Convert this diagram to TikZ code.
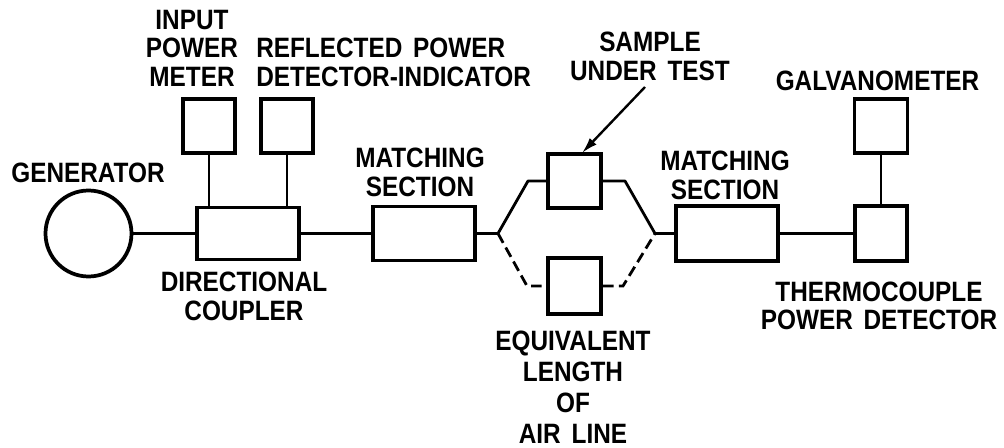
\documentclass[tikz,border=0pt]{standalone}
\usepackage{fontspec}
\setmainfont{Liberation Sans}[FakeStretch=0.87,WordSpace=1.6]
\usetikzlibrary{arrows.meta,calc}
\tikzset{
  box/.style={draw, line width=2.8pt, rectangle, inner sep=0pt},
  gencirc/.style={draw, line width=2.8pt, circle, inner sep=0pt, minimum size=64.5pt},
  wire/.style={line width=2.1pt},
  dwire/.style={line width=2.1pt, dash pattern=on 8pt off 4pt},
  lbl/.style={inner sep=0pt, align=center, font=\fontsize{21pt}{21.4pt}\selectfont\bfseries},
  lbll/.style={lbl, align=left},
  lblwide/.style={lbl, font=\fontsize{21pt}{23.2pt}\selectfont\bfseries},
}
\begin{document}
\begin{tikzpicture}[x=0.75pt,y=-0.75pt]
\useasboundingbox (0,0) rectangle (1004,448);
% nodes
\node[gencirc] (gen) at (88.5,233.5) {};
\node[box, minimum width=76.5pt, minimum height=39pt] (dc) at (248,233.5) {};
\node[box, minimum width=38.5pt, minimum height=40.5pt] (ipm) at (209,126) {};
\node[box, minimum width=39pt, minimum height=40.5pt] (rpd) at (287,126) {};
\node[box, minimum width=76.5pt, minimum height=40.5pt] (ms1) at (424,233.5) {};
\node[box, minimum width=39.75pt, minimum height=41pt] (sample) at (574.5,181) {};
\node[box, minimum width=39.75pt, minimum height=42pt] (eq) at (574.5,286) {};
\node[box, minimum width=76pt, minimum height=41pt] (ms2) at (727,233.5) {};
\node[box, minimum width=39pt, minimum height=41pt] (tc) at (881,233.5) {};
\node[box, minimum width=39.75pt, minimum height=40pt] (galv) at (881,126) {};
\coordinate (jl) at (498,233.5);
\coordinate (jr) at (655,233.5);
\coordinate (ul) at (528,181);
\coordinate (ur) at (625,181);
\coordinate (ll) at (527,286);
\coordinate (lr) at (623,286);
\coordinate (arrtail) at (645,87);
\coordinate (arrtip) at (582,153);
% connectors
\draw[wire] (gen) -- (dc);
\draw[wire] (dc) -- (ms1);
\draw[wire] (ms1) -- (jl);
\draw[wire, line join=round] (jl) -- (ul) -- (sample.west);
\draw[wire, line join=round] (sample.east) -- (ur) -- (jr);
\draw[dwire] (jl) -- (ll) -- (eq.west);
\draw[dwire] (eq.east) -- (lr) -- (jr);
\draw[wire] (jr) -- (ms2);
\draw[wire] (ms2) -- (tc);
\draw[wire] (ipm) -- (ipm |- dc.north);
\draw[wire] (rpd) -- (rpd |- dc.north);
\draw[wire] (galv) -- (tc);
\draw[line width=1.8pt, -{Latex[length=12pt,width=7pt]}] (arrtail) -- (arrtip);
% labels
\node[lbl] (tipm) at (192,48) {INPUT\\POWER\\METER};
\node[lbll, anchor=west] (trpd) at (256,62.5) {REFLECTED POWER\\DETECTOR-INDICATOR};
\node[lbl] (tgen) at (88,173) {GENERATOR};
\node[lbl] (tms1) at (420,172.5) {MATCHING\\SECTION};
\node[lbl] (tdc) at (244,296.5) {DIRECTIONAL\\COUPLER};
\node[lbl] (tsam) at (650,56.5) {SAMPLE\\UNDER TEST};
\node[lbl] (tms2) at (725,175.5) {MATCHING\\SECTION};
\node[lbl] (tgal) at (877.5,80.5) {GALVANOMETER};
\node[lbl] (ttc) at (879,306) {THERMOCOUPLE\\POWER DETECTOR};
\node[lblwide] (teq) at (573,387) {EQUIVALENT\\LENGTH\\OF\\AIR LINE};
\end{tikzpicture}
\end{document}
